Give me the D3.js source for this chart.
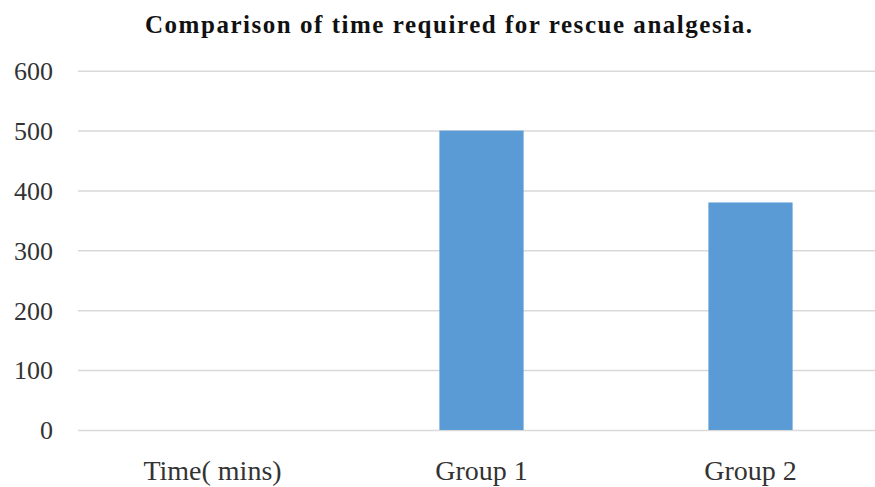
<!DOCTYPE html>
<html>
<head>
<meta charset="utf-8">
<script src="https://cdn.jsdelivr.net/npm/d3@7/dist/d3.min.js"></script>
<style>
  html, body { margin: 0; padding: 0; background: #fff; }
  svg { display: block; }
</style>
</head>
<body>
<svg id="chart" width="875" height="487"></svg>
<script>
// Rescue analgesia timing, minutes
const categories = ["Time( mins)", "Group 1", "Group 2"];
const values = [0, 500, 380];
const yTicks = [0, 100, 200, 300, 400, 500, 600];
const title = "Comparison of time required for rescue analgesia.";

const W = 875, H = 487;
const plot = { left: 78, right: 885, top: 70.7, bottom: 430 };
const serif = "'Liberation Serif', 'Times New Roman', serif";

const svg = d3.select("#chart");

const x = d3.scaleBand()
  .domain(categories)
  .range([plot.left, plot.right])
  .paddingInner(0.687)
  .paddingOuter(0.3435);

const y = d3.scaleLinear()
  .domain([0, 600])
  .range([plot.bottom, plot.top]);

// horizontal gridlines
const grid = d3.axisLeft(y)
  .tickValues(yTicks)
  .tickSize(-(plot.right - plot.left))
  .tickFormat("");
svg.append("g")
  .attr("transform", `translate(${plot.left},0)`)
  .call(grid)
  .call(g => g.select(".domain").remove())
  .call(g => g.selectAll(".tick line")
    .attr("stroke", "#d9d9d9")
    .attr("stroke-width", 1.5));

// y tick labels
const yAxis = d3.axisLeft(y)
  .tickValues(yTicks)
  .tickSize(0)
  .tickPadding(0);
svg.append("g")
  .attr("transform", "translate(53,0)")
  .call(yAxis)
  .call(g => g.select(".domain").remove())
  .call(g => g.selectAll(".tick text")
    .attr("font-family", serif)
    .attr("font-size", 26)
    .attr("fill", "#333")
    .attr("dy", "0.34em"));

// bars
svg.append("g")
  .selectAll("rect")
  .data(categories.map((c, i) => ({ c, v: values[i] })))
  .join("rect")
  .attr("x", d => x(d.c))
  .attr("width", x.bandwidth())
  .attr("y", d => y(d.v))
  .attr("height", d => y(0) - y(d.v))
  .attr("fill", "#5b9bd5");

// category labels
const xAxis = d3.axisBottom(x).tickSize(0).tickPadding(0);
svg.append("g")
  .attr("transform", "translate(0,480)")
  .call(xAxis)
  .call(g => g.select(".domain").remove())
  .call(g => g.selectAll(".tick text")
    .attr("font-family", serif)
    .attr("font-size", 28)
    .attr("fill", "#333")
    .attr("dy", 0));

// title
svg.append("text")
  .attr("x", 448.5)
  .attr("y", 33)
  .attr("text-anchor", "middle")
  .attr("font-family", serif)
  .attr("font-weight", "bold")
  .attr("font-size", 25)
  .attr("textLength", 607)
  .attr("lengthAdjust", "spacing")
  .attr("fill", "#111")
  .text(title);
</script>
</body>
</html>
